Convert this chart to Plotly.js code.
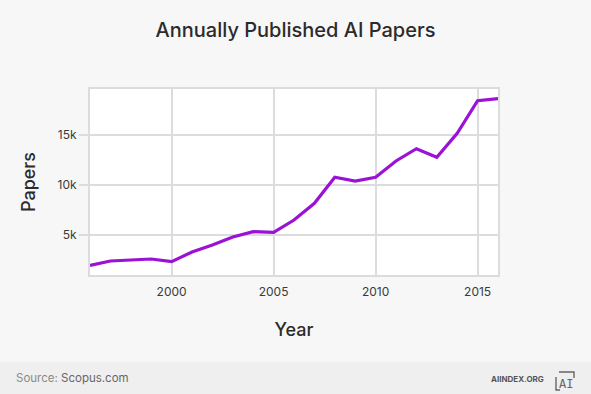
<!DOCTYPE html>
<html>
<head>
<meta charset="utf-8">
<script src="https://cdn.plot.ly/plotly-3.0.1.min.js"></script>
<style>
  html, body { margin: 0; padding: 0; background: #f7f7f8; }
  #chart { width: 591px; height: 394px; }
</style>
</head>
<body>
<div id="chart"></div>
<script>
// data
var years = [1996, 1997, 1998, 1999, 2000, 2001, 2002, 2003, 2004, 2005, 2006,
             2007, 2008, 2009, 2010, 2011, 2012, 2013, 2014, 2015, 2016];
var papers = [1950, 2400, 2500, 2600, 2330, 3300, 4000, 4800, 5330, 5270, 6500,
              8170, 10770, 10400, 10770, 12400, 13630, 12770, 15170, 18430, 18630];

var font = "Inter, 'Noto Sans', sans-serif";

// plot box: x 90..498, y 89..275
var plotW = 408, plotH = 186;
function px(x) { return (x - 90) / plotW; }
function py(y) { return (275 - y) / plotH; }

var data = [{
    x: years,
    y: papers,
    type: "scatter",
    mode: "lines",
    line: { color: "#9b12d6", width: 3.2 },
    hoverinfo: "x+y"
}];

var layout = {
    width: 591,
    height: 394,
    paper_bgcolor: "#f7f7f8",
    plot_bgcolor: "#ffffff",
    margin: { l: 90, r: 93, t: 89, b: 119 },
    showlegend: false,
    font: { family: font, color: "#333" },
    title: {
        text: "Annually Published AI Papers",
        font: { family: font, size: 20, color: "#2b2b2b", weight: 500 },
        x: 0.5, xanchor: "center",
        y: 1 - 30 / 394, yref: "container", yanchor: "middle"
    },
    xaxis: {
        range: [1996, 2016],
        tick0: 2000,
        dtick: 5,
        ticks: "outside",
        ticklen: 5,
        tickcolor: "rgba(0,0,0,0)",
        tickfont: { size: 12, color: "#3a3a3a" },
        gridcolor: "#dcdcdc",
        gridwidth: 2,
        showline: true,
        linecolor: "#dcdcdc",
        linewidth: 2,
        mirror: true,
        zeroline: false,
        title: { text: "Year", standoff: 25, font: { size: 18, color: "#2b2b2b", weight: 500 } }
    },
    yaxis: {
        range: [1000, 19600],
        tick0: 0,
        dtick: 5000,
        tickformat: "~s",
        ticks: "outside",
        ticklen: 9,
        tickwidth: 2,
        tickcolor: "#dcdcdc",
        tickfont: { size: 12, color: "#3a3a3a" },
        gridcolor: "#dcdcdc",
        gridwidth: 2,
        showline: true,
        linecolor: "#dcdcdc",
        linewidth: 2,
        mirror: true,
        zeroline: false,
        title: { text: "Papers", standoff: 17, font: { size: 18, color: "#2b2b2b", weight: 500 } }
    },
    shapes: [
        // footer band
        {
            type: "rect", xref: "paper", yref: "paper", layer: "below",
            x0: px(-5), x1: px(600), y0: py(362), y1: py(400),
            fillcolor: "#efeff0", line: { width: 0 }
        },
        // logo bracket
        {
            type: "path", xref: "paper", yref: "paper",
            path: "M " + px(559) + "," + py(372) + " L " + px(574) + "," + py(372) +
                  " L " + px(574) + "," + py(378) +
                  " M " + px(556) + "," + py(377) + " L " + px(556) + "," + py(390) +
                  " L " + px(560) + "," + py(390),
            line: { color: "#666", width: 1.4 }
        }
    ],
    annotations: [
        {
            xref: "paper", yref: "paper", x: px(14), y: py(378),
            xanchor: "left", yanchor: "middle", showarrow: false,
            text: "<span style='color:#8a8a8a'>Source:</span> Scopus.com",
            font: { family: font, size: 11.5, color: "#666" }
        },
        {
            xref: "paper", yref: "paper", x: px(546), y: py(379),
            xanchor: "right", yanchor: "middle", showarrow: false,
            text: "AIINDEX.ORG",
            font: { family: font, size: 8, color: "#555", weight: 700 }
        },
        {
            xref: "paper", yref: "paper", x: px(566), y: py(384),
            xanchor: "center", yanchor: "middle", showarrow: false,
            text: "AI",
            font: { family: "'DejaVu Sans Mono', monospace", size: 12, color: "#666" }
        }
    ]
};

var config = { responsive: false, displayModeBar: false };

Plotly.newPlot("chart", data, layout, config);
</script>
</body>
</html>
